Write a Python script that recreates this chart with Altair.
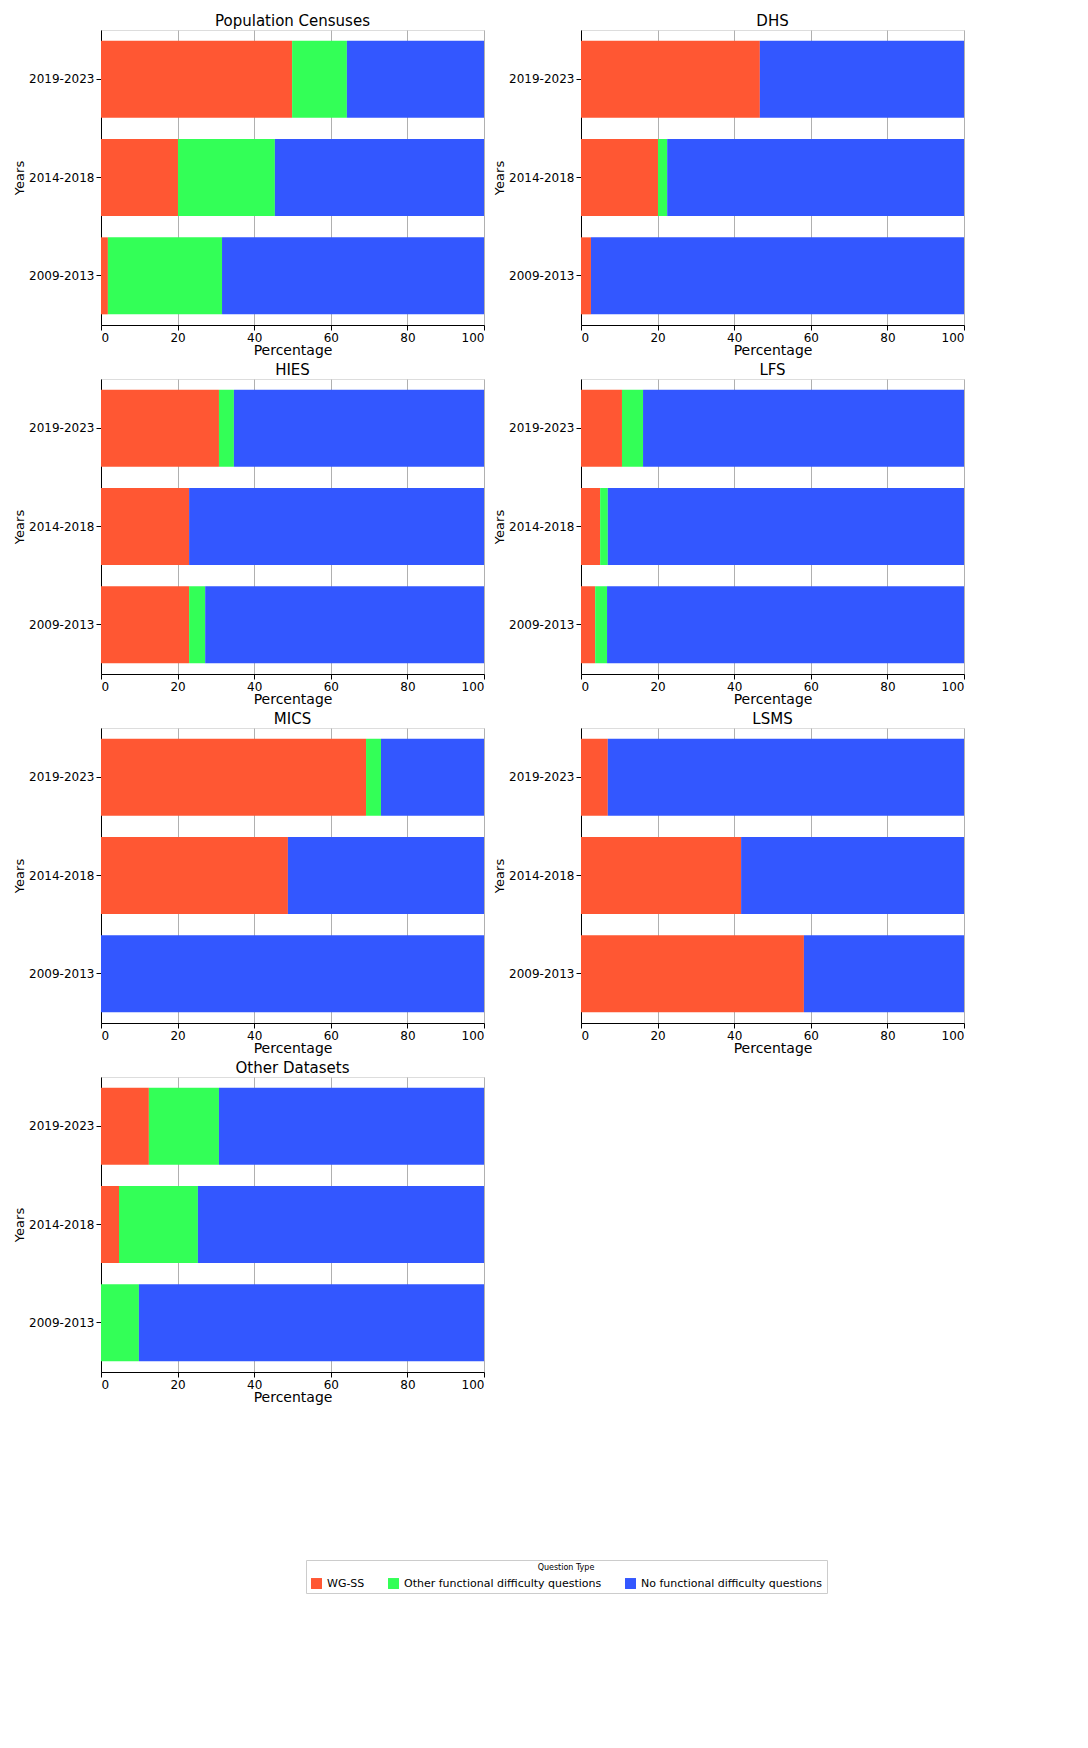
import altair as alt
import pandas as pd

YEARS = ["2019-2023", "2014-2018", "2009-2013"]
TYPES = ["WG-SS", "Other functional difficulty questions", "No functional difficulty questions"]
COLORS = ["#ff5733", "#33ff57", "#3357ff"]

# per dataset: WG-SS and other-question shares for each period (rest = none)
PANELS = ["Population Censuses", "DHS", "HIES", "LFS", "MICS", "LSMS", "Other Datasets"]
WGSS = {
    "Population Censuses": [49.9, 20.1, 1.8],
    "DHS": [46.7, 20.1, 2.6],
    "HIES": [30.8, 23.0, 23.0],
    "LFS": [10.7, 5.0, 3.7],
    "MICS": [69.2, 48.8, 0.0],
    "LSMS": [7.0, 41.8, 58.2],
    "Other Datasets": [12.5, 4.7, 0.0],
}
OTHER = {
    "Population Censuses": [14.3, 25.3, 29.8],
    "DHS": [0.0, 2.4, 0.0],
    "HIES": [3.9, 0.0, 4.2],
    "LFS": [5.5, 2.0, 3.1],
    "MICS": [3.9, 0.0, 0.0],
    "LSMS": [0.0, 0.0, 0.0],
    "Other Datasets": [18.3, 20.6, 9.9],
}

FONT = "DejaVu Sans"


def panel(name):
    rows = []
    for i, y in enumerate(YEARS):
        w, o = WGSS[name][i], OTHER[name][i]
        for k, (t, v) in enumerate(zip(TYPES, [w, o, 100 - w - o])):
            rows.append({"Years": y, "type": t, "value": v, "k": k})
    df = pd.DataFrame(rows)
    return alt.Chart(df, title=alt.Title(name, fontSize=15, fontWeight="normal", offset=1)).mark_bar(
        size=77
    ).encode(
        x=alt.X("value:Q", stack="zero", scale=alt.Scale(domain=[0, 100], nice=False),
                title="Percentage",
                axis=alt.Axis(values=[0, 20, 40, 60, 80, 100], grid=True, gridColor="#b0b0b0",
                              titleFontWeight="normal", titleFontSize=14, labelFontSize=12,
                              titlePadding=0, domainColor="black", tickColor="black",
                              labelColor="black")),
        y=alt.Y("Years:N", sort=YEARS, title="Years",
                axis=alt.Axis(titleFontWeight="normal", titleFontSize=13, labelFontSize=12,
                              domainColor="black", tickColor="black", labelColor="black",
                              titlePadding=2)),
        color=alt.Color("type:N", sort=TYPES, scale=alt.Scale(domain=TYPES, range=COLORS),
                        legend=alt.Legend(title="Question Type", orient="none", direction="horizontal",
                                          legendX=205, legendY=1530,
                                          titleFontSize=8, titleFontWeight="normal", labelFontSize=11,
                                          titleAnchor="middle", titleOrient="top", labelLimit=0,
                                          symbolType="square", symbolSize=120,
                                          strokeColor="#cccccc", padding=4, columnPadding=22)),
        order=alt.Order("k:Q"),
    ).properties(width=383, height=295)


rows = []
for r in range(0, len(PANELS), 2):
    charts = [panel(n) for n in PANELS[r:r + 2]]
    rows.append(alt.hconcat(*charts, spacing=8))

chart = alt.vconcat(*rows, spacing=4).configure_view(stroke="black").configure(
    font=FONT
).configure_legend(labelFont=FONT, titleFont=FONT)

chart.save("out.html", embed_options={"renderer": "svg", "actions": False})
